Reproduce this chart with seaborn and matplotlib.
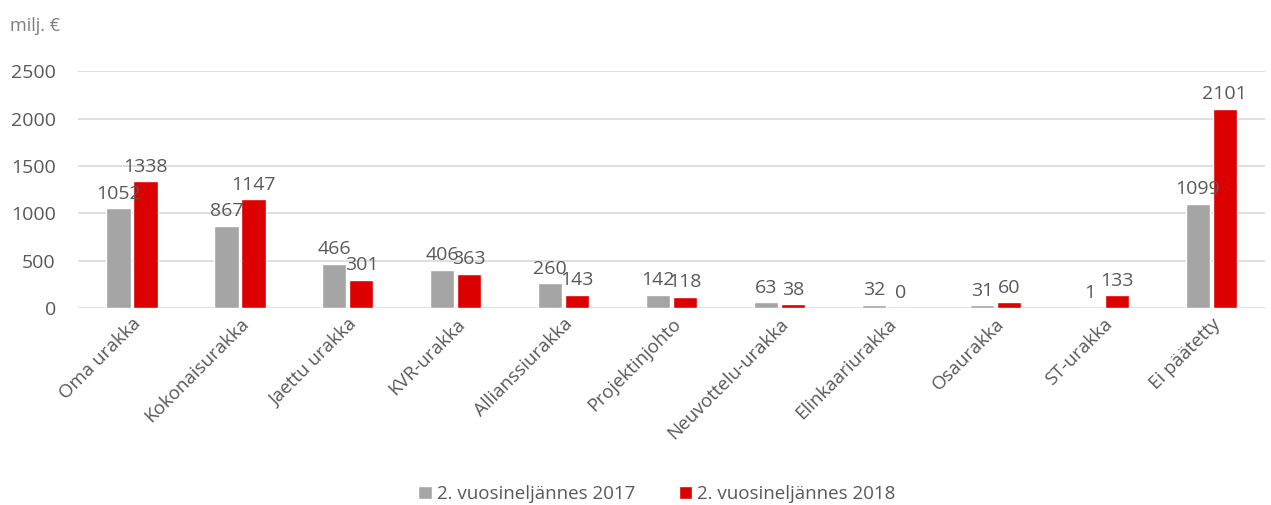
import pandas as pd
import seaborn as sns
import matplotlib.pyplot as plt

categories = ['Oma urakka', 'Kokonaisurakka', 'Jaettu urakka', 'KVR-urakka',
              'Allianssiurakka', 'Projektinjohto', 'Neuvottelu-urakka',
              'Elinkaariurakka', 'Osaurakka', 'ST-urakka', 'Ei päätetty']
values_2017 = [1052, 867, 466, 406, 260, 142, 63, 32, 31, 1, 1099]
values_2018 = [1338, 1147, 301, 363, 143, 118, 38, 0, 60, 133, 2101]
series_names = ['2. vuosineljännes 2017', '2. vuosineljännes 2018']

df = pd.DataFrame({
    'Kategoria': categories * 2,
    'Arvo': values_2017 + values_2018,
    'Sarja': [series_names[0]] * len(categories) + [series_names[1]] * len(categories),
})

sns.set_theme(style="white")
plt.rcParams['font.family'] = ['Open Sans', 'DejaVu Sans']
text_color = '#595959'

fig = plt.figure(figsize=(12.71, 5.05), dpi=100)
ax = fig.add_axes([0.0614, 0.390, 0.934, 0.469])

sns.barplot(data=df, x='Kategoria', y='Arvo', hue='Sarja', order=categories,
            hue_order=series_names, palette=['#a5a5a5', '#dc0000'],
            width=0.5, gap=0.1, saturation=1, ax=ax)

for cont in ax.containers:
    ax.bar_label(cont, labels=[f'{v:.0f}' for v in cont.datavalues],
                 padding=4, fontsize=14, color=text_color, clip_on=False)

ax.set_ylim(0, 2500)
ax.set_yticks([0, 500, 1000, 1500, 2000, 2500])
ax.yaxis.grid(True, color='#d9d9d9', linewidth=1.2)
ax.set_axisbelow(True)
for s in ax.spines.values():
    s.set_visible(False)
ax.tick_params(axis='y', length=0, pad=16, labelsize=14, labelcolor=text_color)
ax.tick_params(axis='x', length=0, pad=5, labelsize=13.5, labelcolor=text_color)
plt.setp(ax.get_xticklabels(), rotation=45, ha='right', rotation_mode='anchor')
ax.set_xlabel('')
ax.set_ylabel('')

fig.text(0.008, 0.948, 'milj. €', fontsize=13, color='#7f7f7f', ha='left', va='center')

ax.legend(loc='center', bbox_to_anchor=(0.517, 0.022), bbox_transform=fig.transFigure,
          ncol=2, frameon=False, fontsize=13.5, labelcolor=text_color,
          handlelength=0.7, handleheight=0.7, handletextpad=0.3, columnspacing=2.3)

fig.savefig('out.png', dpi=100)
